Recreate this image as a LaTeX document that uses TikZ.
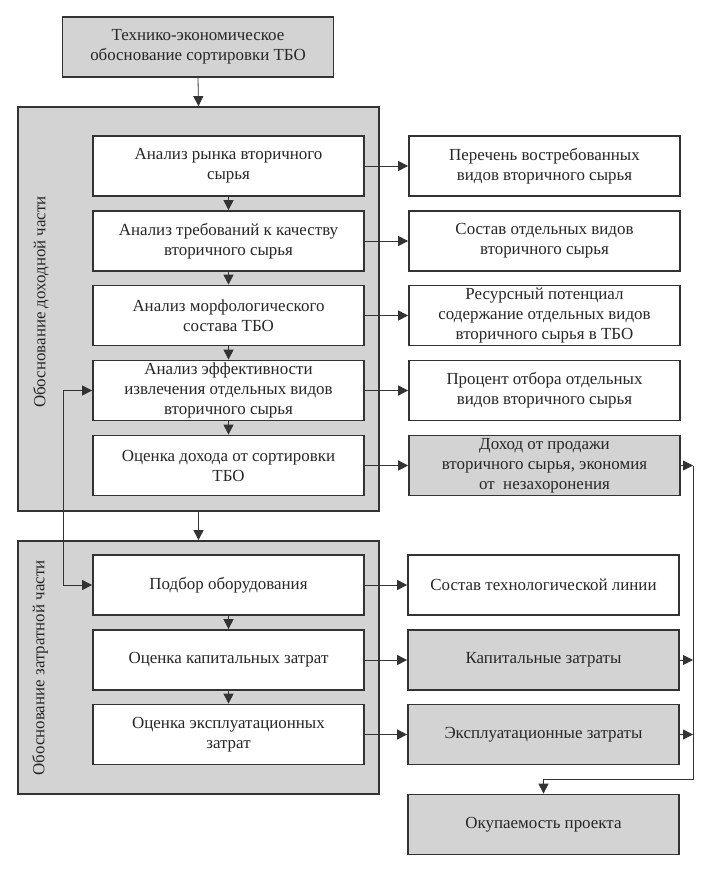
\documentclass[tikz,border=0pt]{standalone}
\usepackage{fontspec}
\setmainfont{Liberation Serif}
\usetikzlibrary{arrows.meta,calc}
\definecolor{fillg}{HTML}{D3D3D3}
\definecolor{edge}{HTML}{333333}
\begin{document}
\begin{tikzpicture}[x=0.75pt,y=-0.75pt,
  every node/.style={text=black!85},
  txt/.style={font=\fontsize{12.7}{15}\selectfont},
  box/.style={txt,draw=edge,line width=1.3pt,align=center,inner sep=0pt,
    minimum width=203.25pt,minimum height=45pt,fill=white},
  gbox/.style={box,fill=fillg},
  group/.style={draw=edge,line width=1.3pt,fill=fillg,inner sep=0pt,minimum width=270.75pt},
  tip/.tip={Triangle[length=7.5pt,width=7.5pt]},
  arr/.style={draw=edge,line width=0.6pt,-tip},
  ln/.style={draw=edge,line width=0.6pt}]
\useasboundingbox (0,0) rectangle (714,870);
% groups
\node[group,minimum height=303pt] (g1) at (198.5,309) {};
\node[group,minimum height=189.75pt] (g2) at (198.5,667.5) {};
\node[txt,rotate=90] (lab1) at (41,302) {Обоснование доходной части};
\node[txt,rotate=90] (lab2) at (40,668) {Обоснование затратной части};
% top
\node[gbox] (top) at (198,47) {Технико-экономическое\\обоснование сортировки ТБО};
% left column
\node[box] (L1) at (228.5,166) {Анализ рынка вторичного\\сырья};
\node[box] (L2) at (228.5,241) {Анализ требований к качеству\\вторичного сырья};
\node[box] (L3) at (228.5,315.5) {Анализ морфологического\\состава ТБО};
\node[box] (L4) at (228.5,390.5) {Анализ эффективности\\извлечения отдельных видов\\вторичного сырья};
\node[box] (L5) at (228.5,465.5) {Оценка дохода от сортировки\\ТБО};
\node[box] (L6) at (228.5,585) {Подбор оборудования};
\node[box] (L7) at (228.5,660) {Оценка капитальных затрат};
\node[box] (L8) at (228.5,734.5) {Оценка эксплуатационных\\затрат};
% right column
\node[box] (R1) at (544.5,166) {Перечень востребованных\\видов вторичного сырья};
\node[box] (R2) at (544.5,241) {Состав отдельных видов\\вторичного сырья};
\node[box] (R3) at (544.5,315.5) {Ресурсный потенциал\\содержание отдельных видов\\вторичного сырья в ТБО};
\node[box] (R4) at (544.5,390.5) {Процент отбора отдельных\\видов вторичного сырья};
\node[gbox] (R5) at (544.5,465.5) {Доход от продажи\\вторичного сырья, экономия\\от\ \ незахоронения};
\node[box] (R6) at (543.5,585) {Состав технологической линии};
\node[gbox] (R7) at (543.5,660) {Капитальные затраты};
\node[gbox] (R8) at (543.5,734.5) {Эксплуатационные затраты};
\node[gbox] (R9) at (543.5,824.5) {Окупаемость проекта};
% connectors
\draw[arr] (top.south) -- (g1.north);
\draw[arr] (g1.south) -- (g2.north);
\foreach \a/\b in {L1/L2,L2/L3,L3/L4,L4/L5,L6/L7,L7/L8}{\draw[arr] (\a.south) -- (\b.north);}
\foreach \n in {1,...,8}{\draw[arr] (L\n.east) -- (R\n.west);}
\coordinate (lx) at (63,0);
\draw[arr,tip-tip] (L4.west) -- (L4.west -| lx) -- (L6.west -| lx) -- (L6.west);
\coordinate (vtop) at (693,465.5);
\coordinate (vbot) at (693,779);
\coordinate (bend) at (543.5,779);
\draw[ln] (vtop) -- (vbot) -- (bend);
\draw[arr] (bend) -- (R9.north);
\foreach \n in {5,7,8}{\draw[arr] (R\n.east) -- (R\n.east -| vtop);}
\end{tikzpicture}
\end{document}
